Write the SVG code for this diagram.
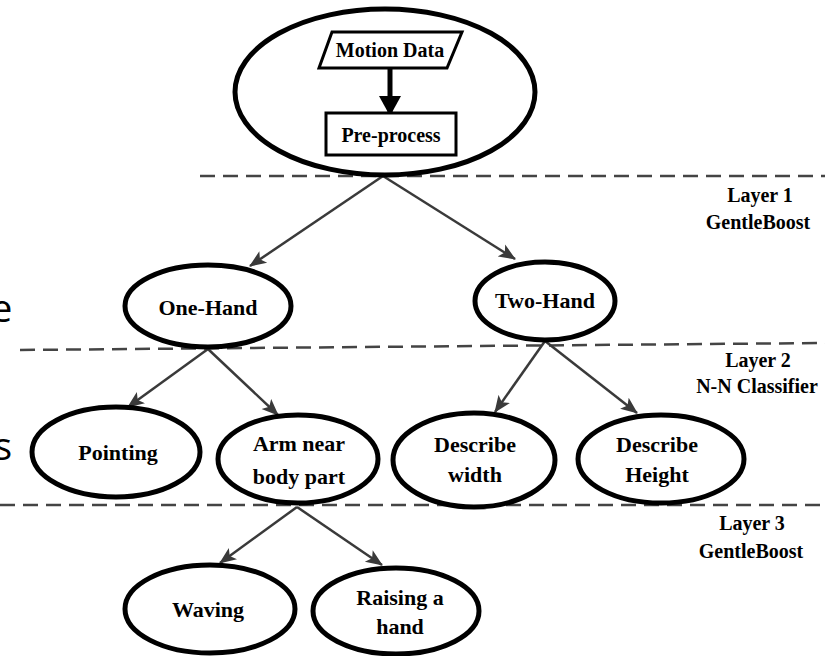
<svg xmlns="http://www.w3.org/2000/svg" width="825" height="656" viewBox="0 0 825 656">
<style>
.node{fill:#fff;stroke:#000;stroke-width:5}
.lbl{font-family:"Liberation Serif","Times New Roman",serif;font-weight:bold;font-size:22px;fill:#000;text-anchor:middle}
.top{font-size:20px}
.layer{font-family:"Liberation Serif","Times New Roman",serif;font-weight:bold;font-size:20px;fill:#000;text-anchor:middle}
.dash{stroke:#444;stroke-width:2.5;stroke-dasharray:15 8;fill:none}
.edge{stroke:#3a3a3a;stroke-width:2.5;fill:none;marker-end:url(#ah)}
.frag{font-family:"Open Sans","Liberation Sans",sans-serif;font-size:38px;fill:#000}
</style>
<defs>
<marker id="ah" markerUnits="userSpaceOnUse" markerWidth="18" markerHeight="16" viewBox="0 0 18 16" refX="16" refY="8" orient="auto">
<path d="M0,1 L17,8 L0,15 L4,8 z" fill="#3a3a3a"/>
</marker>
<marker id="ahb" markerUnits="userSpaceOnUse" markerWidth="20" markerHeight="22" viewBox="0 0 20 22" refX="19" refY="11" orient="auto">
<path d="M0,0 L20,11 L0,22 z" fill="#000"/>
</marker>
</defs>
<rect width="825" height="656" fill="#fff"/>
<text class="frag" x="-9" y="322">e</text>
<text class="frag" x="-6" y="460">s</text>
<g id="dashes">
<line class="dash" x1="200" y1="176" x2="825" y2="176"/>
<line class="dash" x1="20" y1="350" x2="825" y2="343"/>
<line class="dash" x1="0" y1="505" x2="825" y2="505"/>
</g>
<g id="connectors">
<line class="edge" x1="383" y1="176" x2="250" y2="266"/>
<line class="edge" x1="383" y1="176" x2="515" y2="259"/>
<line class="edge" x1="208" y1="349" x2="128" y2="407"/>
<line class="edge" x1="208" y1="349" x2="278" y2="415"/>
<line class="edge" x1="545" y1="341" x2="495" y2="412"/>
<line class="edge" x1="545" y1="341" x2="637" y2="413"/>
<line class="edge" x1="297" y1="507" x2="220" y2="563"/>
<line class="edge" x1="297" y1="507" x2="382" y2="565"/>
</g>
<g id="root">
<ellipse class="node" cx="385" cy="92" rx="150" ry="83"/>
<g id="motion-data">
<polygon points="332,32 462,32 447,68 319,68" fill="#fff" stroke="#000" stroke-width="3"/>
<text class="lbl top" x="390" y="57">Motion Data</text>
</g>
<line x1="390" y1="68" x2="390" y2="115" stroke="#000" stroke-width="5" marker-end="url(#ahb)"/>
<g id="pre-process">
<rect x="326" y="113" width="130" height="42" fill="#fff" stroke="#000" stroke-width="3"/>
<text class="lbl top" x="391" y="142">Pre-process</text>
</g>
</g>
<g id="one-hand"><ellipse class="node" cx="208" cy="306" rx="83" ry="41"/><text class="lbl" x="208" y="315">One-Hand</text></g>
<g id="two-hand"><ellipse class="node" cx="545" cy="301" rx="70" ry="39"/><text class="lbl" x="545" y="308">Two-Hand</text></g>
<g id="pointing"><ellipse class="node" cx="116" cy="452" rx="84" ry="45"/><text class="lbl" x="118" y="460">Pointing</text></g>
<g id="arm-near"><ellipse class="node" cx="298" cy="459" rx="80" ry="44"/><text class="lbl" x="299" y="451">Arm near</text><text class="lbl" x="299" y="484">body part</text></g>
<g id="describe-width"><ellipse class="node" cx="474" cy="460" rx="81" ry="47"/><text class="lbl" x="475" y="452">Describe</text><text class="lbl" x="475" y="482">width</text></g>
<g id="describe-height"><ellipse class="node" cx="661" cy="459" rx="83" ry="44"/><text class="lbl" x="657" y="452">Describe</text><text class="lbl" x="657" y="482">Height</text></g>
<g id="waving"><ellipse class="node" cx="210" cy="609" rx="85" ry="44"/><text class="lbl" x="208" y="617">Waving</text></g>
<g id="raising"><ellipse class="node" cx="396" cy="611" rx="83" ry="43"/><text class="lbl" x="400" y="605">Raising a</text><text class="lbl" x="400" y="634">hand</text></g>
<g id="layers">
<text class="layer" x="760" y="202">Layer 1</text>
<text class="layer" x="758" y="229">GentleBoost</text>
<text class="layer" x="758" y="367">Layer 2</text>
<text class="layer" x="757" y="393">N-N Classifier</text>
<text class="layer" x="752" y="530">Layer 3</text>
<text class="layer" x="751" y="558">GentleBoost</text>
</g>
</svg>
